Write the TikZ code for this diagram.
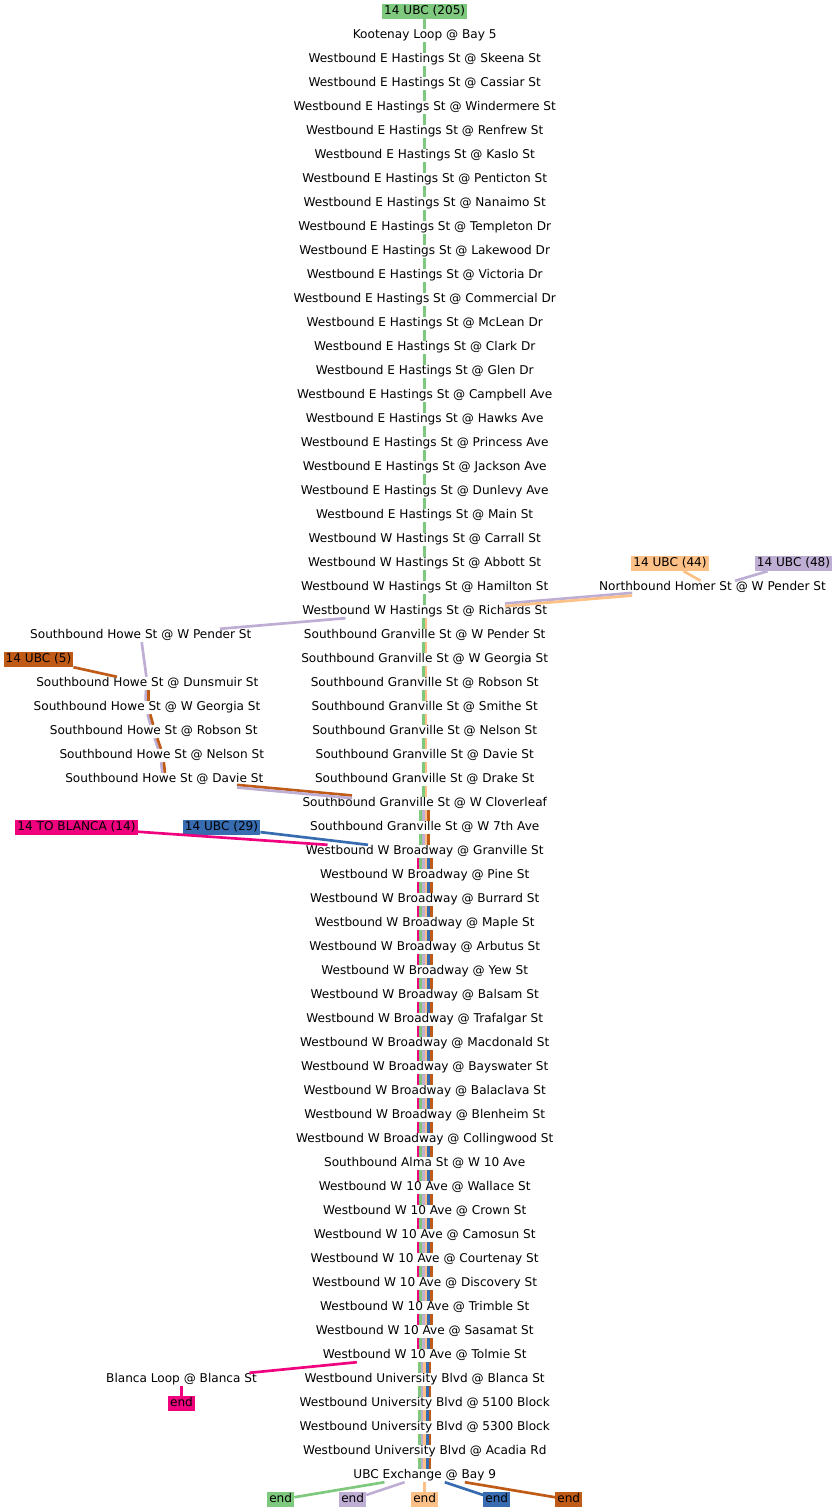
\documentclass[tikz,border=0pt]{standalone}
\usepackage{fontspec}
\setmainfont{DejaVu Sans}
\definecolor{cG}{HTML}{7FC97F}
\definecolor{cP}{HTML}{BEAED4}
\definecolor{cO}{HTML}{FDC086}
\definecolor{cB}{HTML}{386CB0}
\definecolor{cM}{HTML}{F0027F}
\definecolor{cR}{HTML}{BF5B17}
\begin{document}
\begin{tikzpicture}[x=1pt,y=-1pt,
  stop/.style={font=\fontsize{12.1}{14}\selectfont, inner xsep=1pt, inner ysep=1pt, text height=8.5pt, text depth=2.5pt},
  lbl/.style={stop, fill=#1, inner xsep=2pt, inner ysep=2pt},
  rt/.style={line width=2.67pt, draw=#1}
]
\useasboundingbox (0,0) rectangle (837,1512);
% central stops
\foreach \k/\t in {
1/Kootenay Loop @ Bay 5,
2/Westbound E Hastings St @ Skeena St,
3/Westbound E Hastings St @ Cassiar St,
4/Westbound E Hastings St @ Windermere St,
5/Westbound E Hastings St @ Renfrew St,
6/Westbound E Hastings St @ Kaslo St,
7/Westbound E Hastings St @ Penticton St,
8/Westbound E Hastings St @ Nanaimo St,
9/Westbound E Hastings St @ Templeton Dr,
10/Westbound E Hastings St @ Lakewood Dr,
11/Westbound E Hastings St @ Victoria Dr,
12/Westbound E Hastings St @ Commercial Dr,
13/Westbound E Hastings St @ McLean Dr,
14/Westbound E Hastings St @ Clark Dr,
15/Westbound E Hastings St @ Glen Dr,
16/Westbound E Hastings St @ Campbell Ave,
17/Westbound E Hastings St @ Hawks Ave,
18/Westbound E Hastings St @ Princess Ave,
19/Westbound E Hastings St @ Jackson Ave,
20/Westbound E Hastings St @ Dunlevy Ave,
21/Westbound E Hastings St @ Main St,
22/Westbound W Hastings St @ Carrall St,
23/Westbound W Hastings St @ Abbott St,
24/Westbound W Hastings St @ Hamilton St,
25/Westbound W Hastings St @ Richards St,
26/Southbound Granville St @ W Pender St,
27/Southbound Granville St @ W Georgia St,
28/Southbound Granville St @ Robson St,
29/Southbound Granville St @ Smithe St,
30/Southbound Granville St @ Nelson St,
31/Southbound Granville St @ Davie St,
32/Southbound Granville St @ Drake St,
33/Southbound Granville St @ W Cloverleaf,
34/Southbound Granville St @ W 7th Ave,
35/Westbound W Broadway @ Granville St,
36/Westbound W Broadway @ Pine St,
37/Westbound W Broadway @ Burrard St,
38/Westbound W Broadway @ Maple St,
39/Westbound W Broadway @ Arbutus St,
40/Westbound W Broadway @ Yew St,
41/Westbound W Broadway @ Balsam St,
42/Westbound W Broadway @ Trafalgar St,
43/Westbound W Broadway @ Macdonald St,
44/Westbound W Broadway @ Bayswater St,
45/Westbound W Broadway @ Balaclava St,
46/Westbound W Broadway @ Blenheim St,
47/Westbound W Broadway @ Collingwood St,
48/Southbound Alma St @ W 10 Ave,
49/Westbound W 10 Ave @ Wallace St,
50/Westbound W 10 Ave @ Crown St,
51/Westbound W 10 Ave @ Camosun St,
52/Westbound W 10 Ave @ Courtenay St,
53/Westbound W 10 Ave @ Discovery St,
54/Westbound W 10 Ave @ Trimble St,
55/Westbound W 10 Ave @ Sasamat St,
56/Westbound W 10 Ave @ Tolmie St,
57/Westbound University Blvd @ Blanca St,
58/Westbound University Blvd @ 5100 Block,
59/Westbound University Blvd @ 5300 Block,
60/Westbound University Blvd @ Acadia Rd,
61/UBC Exchange @ Bay 9}
  \node[stop] (s\k) at (424.7,{11.5+24*\k}) {\t};
% side stops
\node[stop] (homer) at (712.5,587.5) {Northbound Homer St @ W Pender St};
\node[stop] (h26) at (140.8,635.5) {Southbound Howe St @ W Pender St};
\node[stop] (h28) at (147.3,683.5) {Southbound Howe St @ Dunsmuir St};
\node[stop] (h29) at (147.0,707.5) {Southbound Howe St @ W Georgia St};
\node[stop] (h30) at (153.7,731.5) {Southbound Howe St @ Robson St};
\node[stop] (h31) at (161.8,755.5) {Southbound Howe St @ Nelson St};
\node[stop] (h32) at (164.3,779.5) {Southbound Howe St @ Davie St};
\node[stop] (blanca) at (181.5,1379.5) {Blanca Loop @ Blanca St};
% route labels
\node[lbl=cG] (l205) at (424.7,11.5) {14 UBC (205)};
\node[lbl=cO] (l44) at (670,563.5) {14 UBC (44)};
\node[lbl=cP] (l48) at (793.5,563.5) {14 UBC (48)};
\node[lbl=cR] (l5) at (38.5,659.5) {14 UBC (5)};
\node[lbl=cM] (l14) at (76.5,827.5) {14 TO BLANCA (14)};
\node[lbl=cB] (l29) at (221.5,827.5) {14 UBC (29)};
% ends
\node[lbl=cM] (eM) at (181.5,1403.5) {end};
\node[lbl=cG] (eG) at (280.7,1499.5) {end};
\node[lbl=cP] (eP) at (352.7,1499.5) {end};
\node[lbl=cO] (eO) at (424.7,1499.5) {end};
\node[lbl=cB] (eB) at (496.7,1499.5) {end};
\node[lbl=cR] (eR) at (568.7,1499.5) {end};
% route 205 alone
\draw[rt=cG] (l205) -- (s1);
\foreach \a in {1,...,24}{\pgfmathtruncatemacro\b{\a+1}
  \draw[rt=cG] (s\a) -- (s\b);}
% green + orange
\foreach \a in {25,...,32}{\pgfmathtruncatemacro\b{\a+1}
  \foreach \c/\o in {cG/-1.335,cO/1.335}
    \draw[rt=\c, transform canvas={xshift=\o pt}] (s\a) -- (s\b);}
% four lines
\foreach \a in {33,34}{\pgfmathtruncatemacro\b{\a+1}
  \foreach \c/\o in {cG/-4.005,cP/-1.335,cO/1.335,cR/4.005}
    \draw[rt=\c, transform canvas={xshift=\o pt}] (s\a) -- (s\b);}
% six lines
\foreach \a in {35,...,55}{\pgfmathtruncatemacro\b{\a+1}
  \foreach \c/\o in {cM/-6.675,cG/-4.005,cP/-1.335,cO/1.335,cB/4.005,cR/6.675}
    \draw[rt=\c, transform canvas={xshift=\o pt}] (s\a) -- (s\b);}
% five lines
\foreach \a in {56,...,60}{\pgfmathtruncatemacro\b{\a+1}
  \foreach \c/\o in {cG/-5.34,cP/-2.67,cO/0,cB/2.67,cR/5.34}
    \draw[rt=\c, transform canvas={xshift=\o pt}] (s\a) -- (s\b);}
% Homer branch
\draw[rt=cO] (l44) -- (homer);
\draw[rt=cP] (l48) -- (homer);
\draw[rt=cP, transform canvas={yshift=1.335pt}] (homer) -- (s25);
\draw[rt=cO, transform canvas={yshift=-1.335pt}] (homer) -- (s25);
% Howe branch
\draw[rt=cP] (s25) -- (h26);
\draw[rt=cP] (h26) -- (h28);
\draw[rt=cR] (l5) -- (h28);
\foreach \a/\b in {h28/h29,h29/h30,h30/h31,h31/h32}
  \foreach \c/\o in {cP/-1.335,cR/1.335}
    \draw[rt=\c, transform canvas={xshift=\o pt}] (\a) -- (\b);
\draw[rt=cR, transform canvas={yshift=1.335pt}] (h32) -- (s33);
\draw[rt=cP, transform canvas={yshift=-1.335pt}] (h32) -- (s33);
% Broadway joins
\draw[rt=cM] (l14) -- (s35);
\draw[rt=cB] (l29) -- (s35);
% Blanca
\draw[rt=cM] (s56) -- (blanca);
\draw[rt=cM] (blanca) -- (eM);
% ends
\draw[rt=cG] (s61) -- (eG);
\draw[rt=cP] (s61) -- (eP);
\draw[rt=cO] (s61) -- (eO);
\draw[rt=cB] (s61) -- (eB);
\draw[rt=cR] (s61) -- (eR);
\end{tikzpicture}
\end{document}
